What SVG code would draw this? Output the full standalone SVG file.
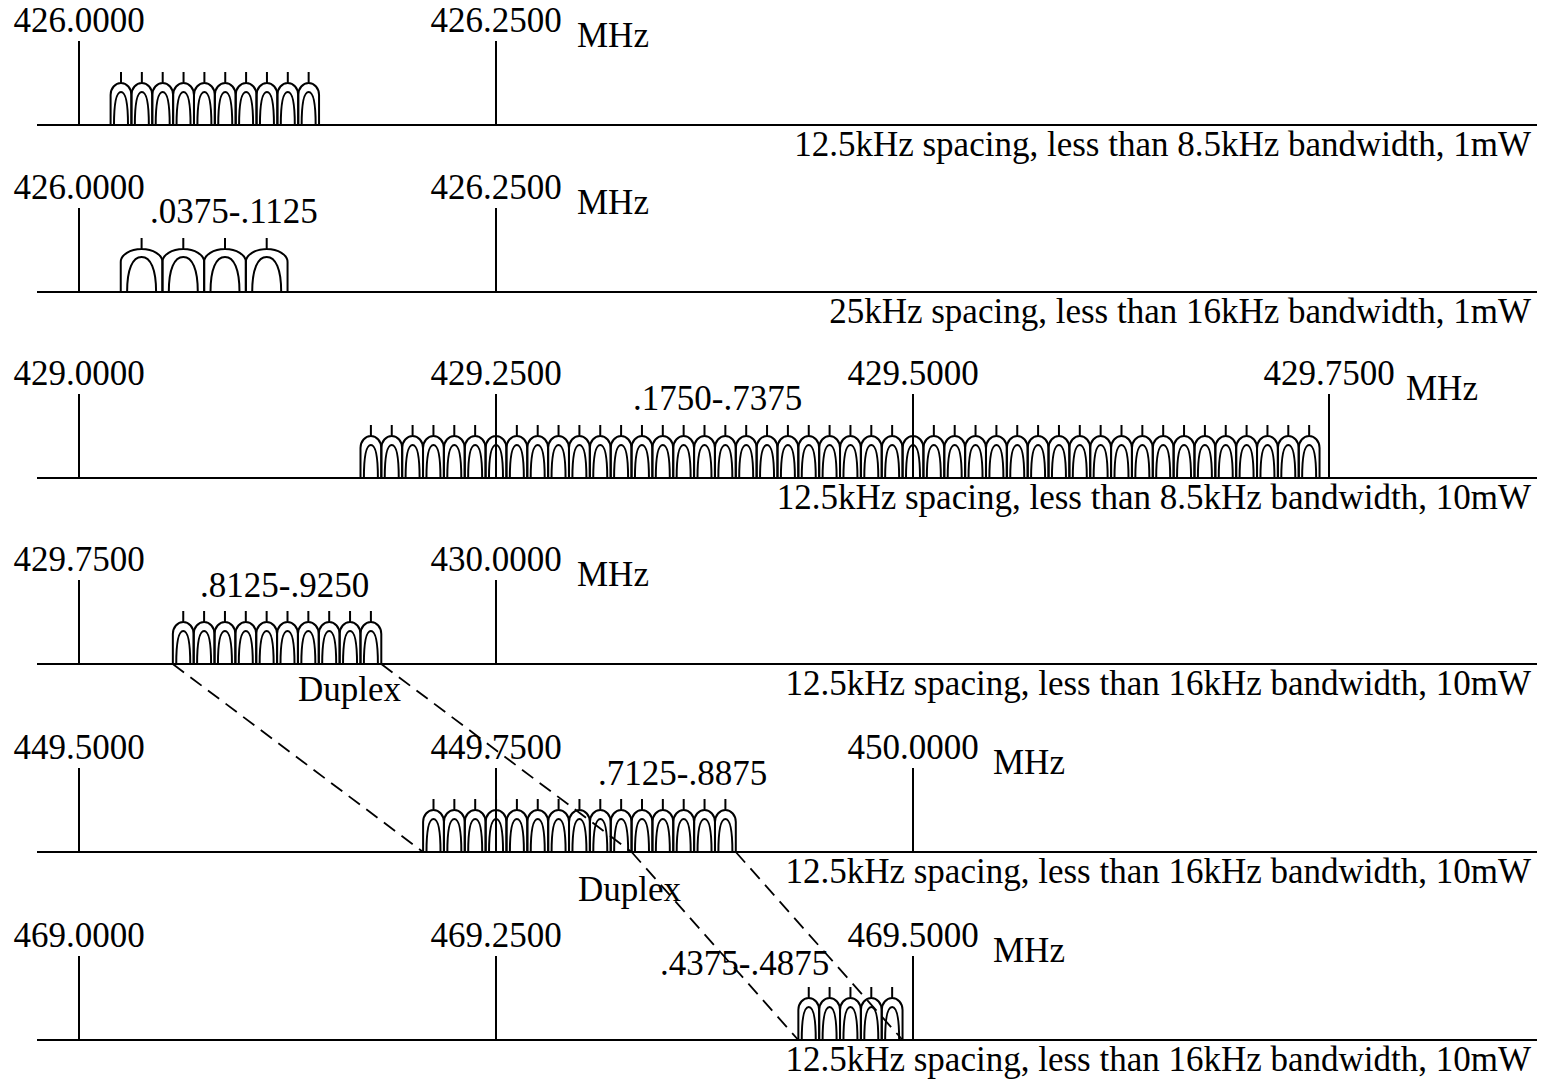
<svg xmlns="http://www.w3.org/2000/svg" xmlns:xlink="http://www.w3.org/1999/xlink" width="1552" height="1081" viewBox="0 0 1552 1081">
<style>
text{font-family:"Liberation Serif","Times New Roman",serif;font-size:35px;fill:#000}
.c{text-anchor:middle}
.e{text-anchor:end}
.ax{stroke:#000;stroke-width:2;fill:none}
.chs{stroke:#000;stroke-width:2;fill:none}
.dash{stroke:#000;stroke-width:1.8;fill:none;stroke-dasharray:14 8}
</style>
<defs>
<path id="ch" d="M-10.4,0V-30A10.4,12 0 0 1 10.4,-30V0M0,-42V-53M-7,0C-7,-22 -4.5,-33 0,-33C4.5,-33 7,-22 7,0"/>
<path id="ch25" d="M-20.85,0V-30A20.85,13 0 0 1 20.85,-30V0M0,-43V-54M-14.5,0C-14.5,-23 -9,-35 0,-35C9,-35 14.5,-23 14.5,0"/>
</defs>
<rect width="1552" height="1081" fill="#fff"/>

<g id="band1">
<path class="ax" d="M37,125H1537M79,125V41M496,125V41"/>
<text class="c" x="79" y="32">426.0000</text>
<text class="c" x="496" y="32">426.2500</text>
<text x="577" y="47">MHz</text>
<text class="e" x="1531" y="156">12.5kHz spacing, less than 8.5kHz bandwidth, 1mW</text>
<g class="chs">
<use xlink:href="#ch" x="121" y="125"/><use xlink:href="#ch" x="141.85" y="125"/><use xlink:href="#ch" x="162.7" y="125"/><use xlink:href="#ch" x="183.55" y="125"/><use xlink:href="#ch" x="204.4" y="125"/><use xlink:href="#ch" x="225.25" y="125"/><use xlink:href="#ch" x="246.1" y="125"/><use xlink:href="#ch" x="266.95" y="125"/><use xlink:href="#ch" x="287.8" y="125"/><use xlink:href="#ch" x="308.65" y="125"/>
</g>
</g>

<g id="band2">
<path class="ax" d="M37,292H1537M79,292V208M496,292V208"/>
<text class="c" x="79" y="199">426.0000</text>
<text class="c" x="496" y="199">426.2500</text>
<text x="577" y="214">MHz</text>
<text x="150" y="223">.0375-.1125</text>
<text class="e" x="1531" y="323">25kHz spacing, less than 16kHz bandwidth, 1mW</text>
<g class="chs">
<use xlink:href="#ch25" x="141.6" y="292"/><use xlink:href="#ch25" x="183.3" y="292"/><use xlink:href="#ch25" x="225" y="292"/><use xlink:href="#ch25" x="266.7" y="292"/>
</g>
</g>

<g id="band3">
<path class="ax" d="M37,478H1537M79,478V394M496,478V394M913,478V394M1329,478V394"/>
<text class="c" x="79" y="385">429.0000</text>
<text class="c" x="496" y="385">429.2500</text>
<text class="c" x="913" y="385">429.5000</text>
<text class="c" x="1329" y="385">429.7500</text>
<text x="1406" y="400">MHz</text>
<text x="633" y="410">.1750-.7375</text>
<text class="e" x="1531" y="509">12.5kHz spacing, less than 8.5kHz bandwidth, 10mW</text>
<g class="chs">
<use xlink:href="#ch" x="370.9" y="478"/><use xlink:href="#ch" x="391.75" y="478"/><use xlink:href="#ch" x="412.6" y="478"/><use xlink:href="#ch" x="433.45" y="478"/><use xlink:href="#ch" x="454.3" y="478"/><use xlink:href="#ch" x="475.15" y="478"/><use xlink:href="#ch" x="496" y="478"/><use xlink:href="#ch" x="516.85" y="478"/><use xlink:href="#ch" x="537.7" y="478"/><use xlink:href="#ch" x="558.55" y="478"/>
<use xlink:href="#ch" x="579.4" y="478"/><use xlink:href="#ch" x="600.25" y="478"/><use xlink:href="#ch" x="621.1" y="478"/><use xlink:href="#ch" x="641.95" y="478"/><use xlink:href="#ch" x="662.8" y="478"/><use xlink:href="#ch" x="683.65" y="478"/><use xlink:href="#ch" x="704.5" y="478"/><use xlink:href="#ch" x="725.35" y="478"/><use xlink:href="#ch" x="746.2" y="478"/><use xlink:href="#ch" x="767.05" y="478"/>
<use xlink:href="#ch" x="787.9" y="478"/><use xlink:href="#ch" x="808.75" y="478"/><use xlink:href="#ch" x="829.6" y="478"/><use xlink:href="#ch" x="850.45" y="478"/><use xlink:href="#ch" x="871.3" y="478"/><use xlink:href="#ch" x="892.15" y="478"/><use xlink:href="#ch" x="913" y="478"/><use xlink:href="#ch" x="933.85" y="478"/><use xlink:href="#ch" x="954.7" y="478"/><use xlink:href="#ch" x="975.55" y="478"/>
<use xlink:href="#ch" x="996.4" y="478"/><use xlink:href="#ch" x="1017.25" y="478"/><use xlink:href="#ch" x="1038.1" y="478"/><use xlink:href="#ch" x="1058.95" y="478"/><use xlink:href="#ch" x="1079.8" y="478"/><use xlink:href="#ch" x="1100.65" y="478"/><use xlink:href="#ch" x="1121.5" y="478"/><use xlink:href="#ch" x="1142.35" y="478"/><use xlink:href="#ch" x="1163.2" y="478"/><use xlink:href="#ch" x="1184.05" y="478"/>
<use xlink:href="#ch" x="1204.9" y="478"/><use xlink:href="#ch" x="1225.75" y="478"/><use xlink:href="#ch" x="1246.6" y="478"/><use xlink:href="#ch" x="1267.45" y="478"/><use xlink:href="#ch" x="1288.3" y="478"/><use xlink:href="#ch" x="1309.15" y="478"/>
</g>
</g>

<g id="band4">
<path class="ax" d="M37,664H1537M79,664V580M496,664V580"/>
<text class="c" x="79" y="571">429.7500</text>
<text class="c" x="496" y="571">430.0000</text>
<text x="577" y="586">MHz</text>
<text x="200" y="597">.8125-.9250</text>
<text x="298" y="701">Duplex</text>
<text class="e" x="1531" y="695">12.5kHz spacing, less than 16kHz bandwidth, 10mW</text>
<g class="chs">
<use xlink:href="#ch" x="183.25" y="664"/><use xlink:href="#ch" x="204.1" y="664"/><use xlink:href="#ch" x="224.95" y="664"/><use xlink:href="#ch" x="245.8" y="664"/><use xlink:href="#ch" x="266.65" y="664"/><use xlink:href="#ch" x="287.5" y="664"/><use xlink:href="#ch" x="308.35" y="664"/><use xlink:href="#ch" x="329.2" y="664"/><use xlink:href="#ch" x="350.05" y="664"/><use xlink:href="#ch" x="370.9" y="664"/>
</g>
</g>

<g id="band5">
<path class="ax" d="M37,852H1537M79,852V768M496,852V768M913,852V768"/>
<text class="c" x="79" y="759">449.5000</text>
<text class="c" x="496" y="759">449.7500</text>
<text class="c" x="913" y="759">450.0000</text>
<text x="993" y="774">MHz</text>
<text x="598" y="785">.7125-.8875</text>
<text x="578" y="901">Duplex</text>
<text class="e" x="1531" y="883">12.5kHz spacing, less than 16kHz bandwidth, 10mW</text>
<g class="chs">
<use xlink:href="#ch" x="433.5" y="852"/><use xlink:href="#ch" x="454.35" y="852"/><use xlink:href="#ch" x="475.2" y="852"/><use xlink:href="#ch" x="496.05" y="852"/><use xlink:href="#ch" x="516.9" y="852"/><use xlink:href="#ch" x="537.75" y="852"/><use xlink:href="#ch" x="558.6" y="852"/><use xlink:href="#ch" x="579.45" y="852"/><use xlink:href="#ch" x="600.3" y="852"/><use xlink:href="#ch" x="621.15" y="852"/>
<use xlink:href="#ch" x="642" y="852"/><use xlink:href="#ch" x="662.85" y="852"/><use xlink:href="#ch" x="683.7" y="852"/><use xlink:href="#ch" x="704.55" y="852"/><use xlink:href="#ch" x="725.4" y="852"/>
</g>
</g>

<g id="band6">
<path class="ax" d="M37,1040H1537M79,1040V956M496,1040V956M913,1040V956"/>
<text class="c" x="79" y="947">469.0000</text>
<text class="c" x="496" y="947">469.2500</text>
<text class="c" x="913" y="947">469.5000</text>
<text x="993" y="962">MHz</text>
<text x="660" y="975">.4375-.4875</text>
<text class="e" x="1531" y="1071">12.5kHz spacing, less than 16kHz bandwidth, 10mW</text>
<g class="chs">
<use xlink:href="#ch" x="808.75" y="1040"/><use xlink:href="#ch" x="829.6" y="1040"/><use xlink:href="#ch" x="850.45" y="1040"/><use xlink:href="#ch" x="871.3" y="1040"/><use xlink:href="#ch" x="892.15" y="1040"/>
</g>
</g>

<g id="connectors">
<path class="dash" d="M172.8,664L423.1,852"/>
<path class="dash" d="M381.3,664L631.6,852"/>
<path class="dash" d="M631.6,852L798.3,1040"/>
<path class="dash" d="M735.8,852L902.6,1040"/>
</g>
</svg>
